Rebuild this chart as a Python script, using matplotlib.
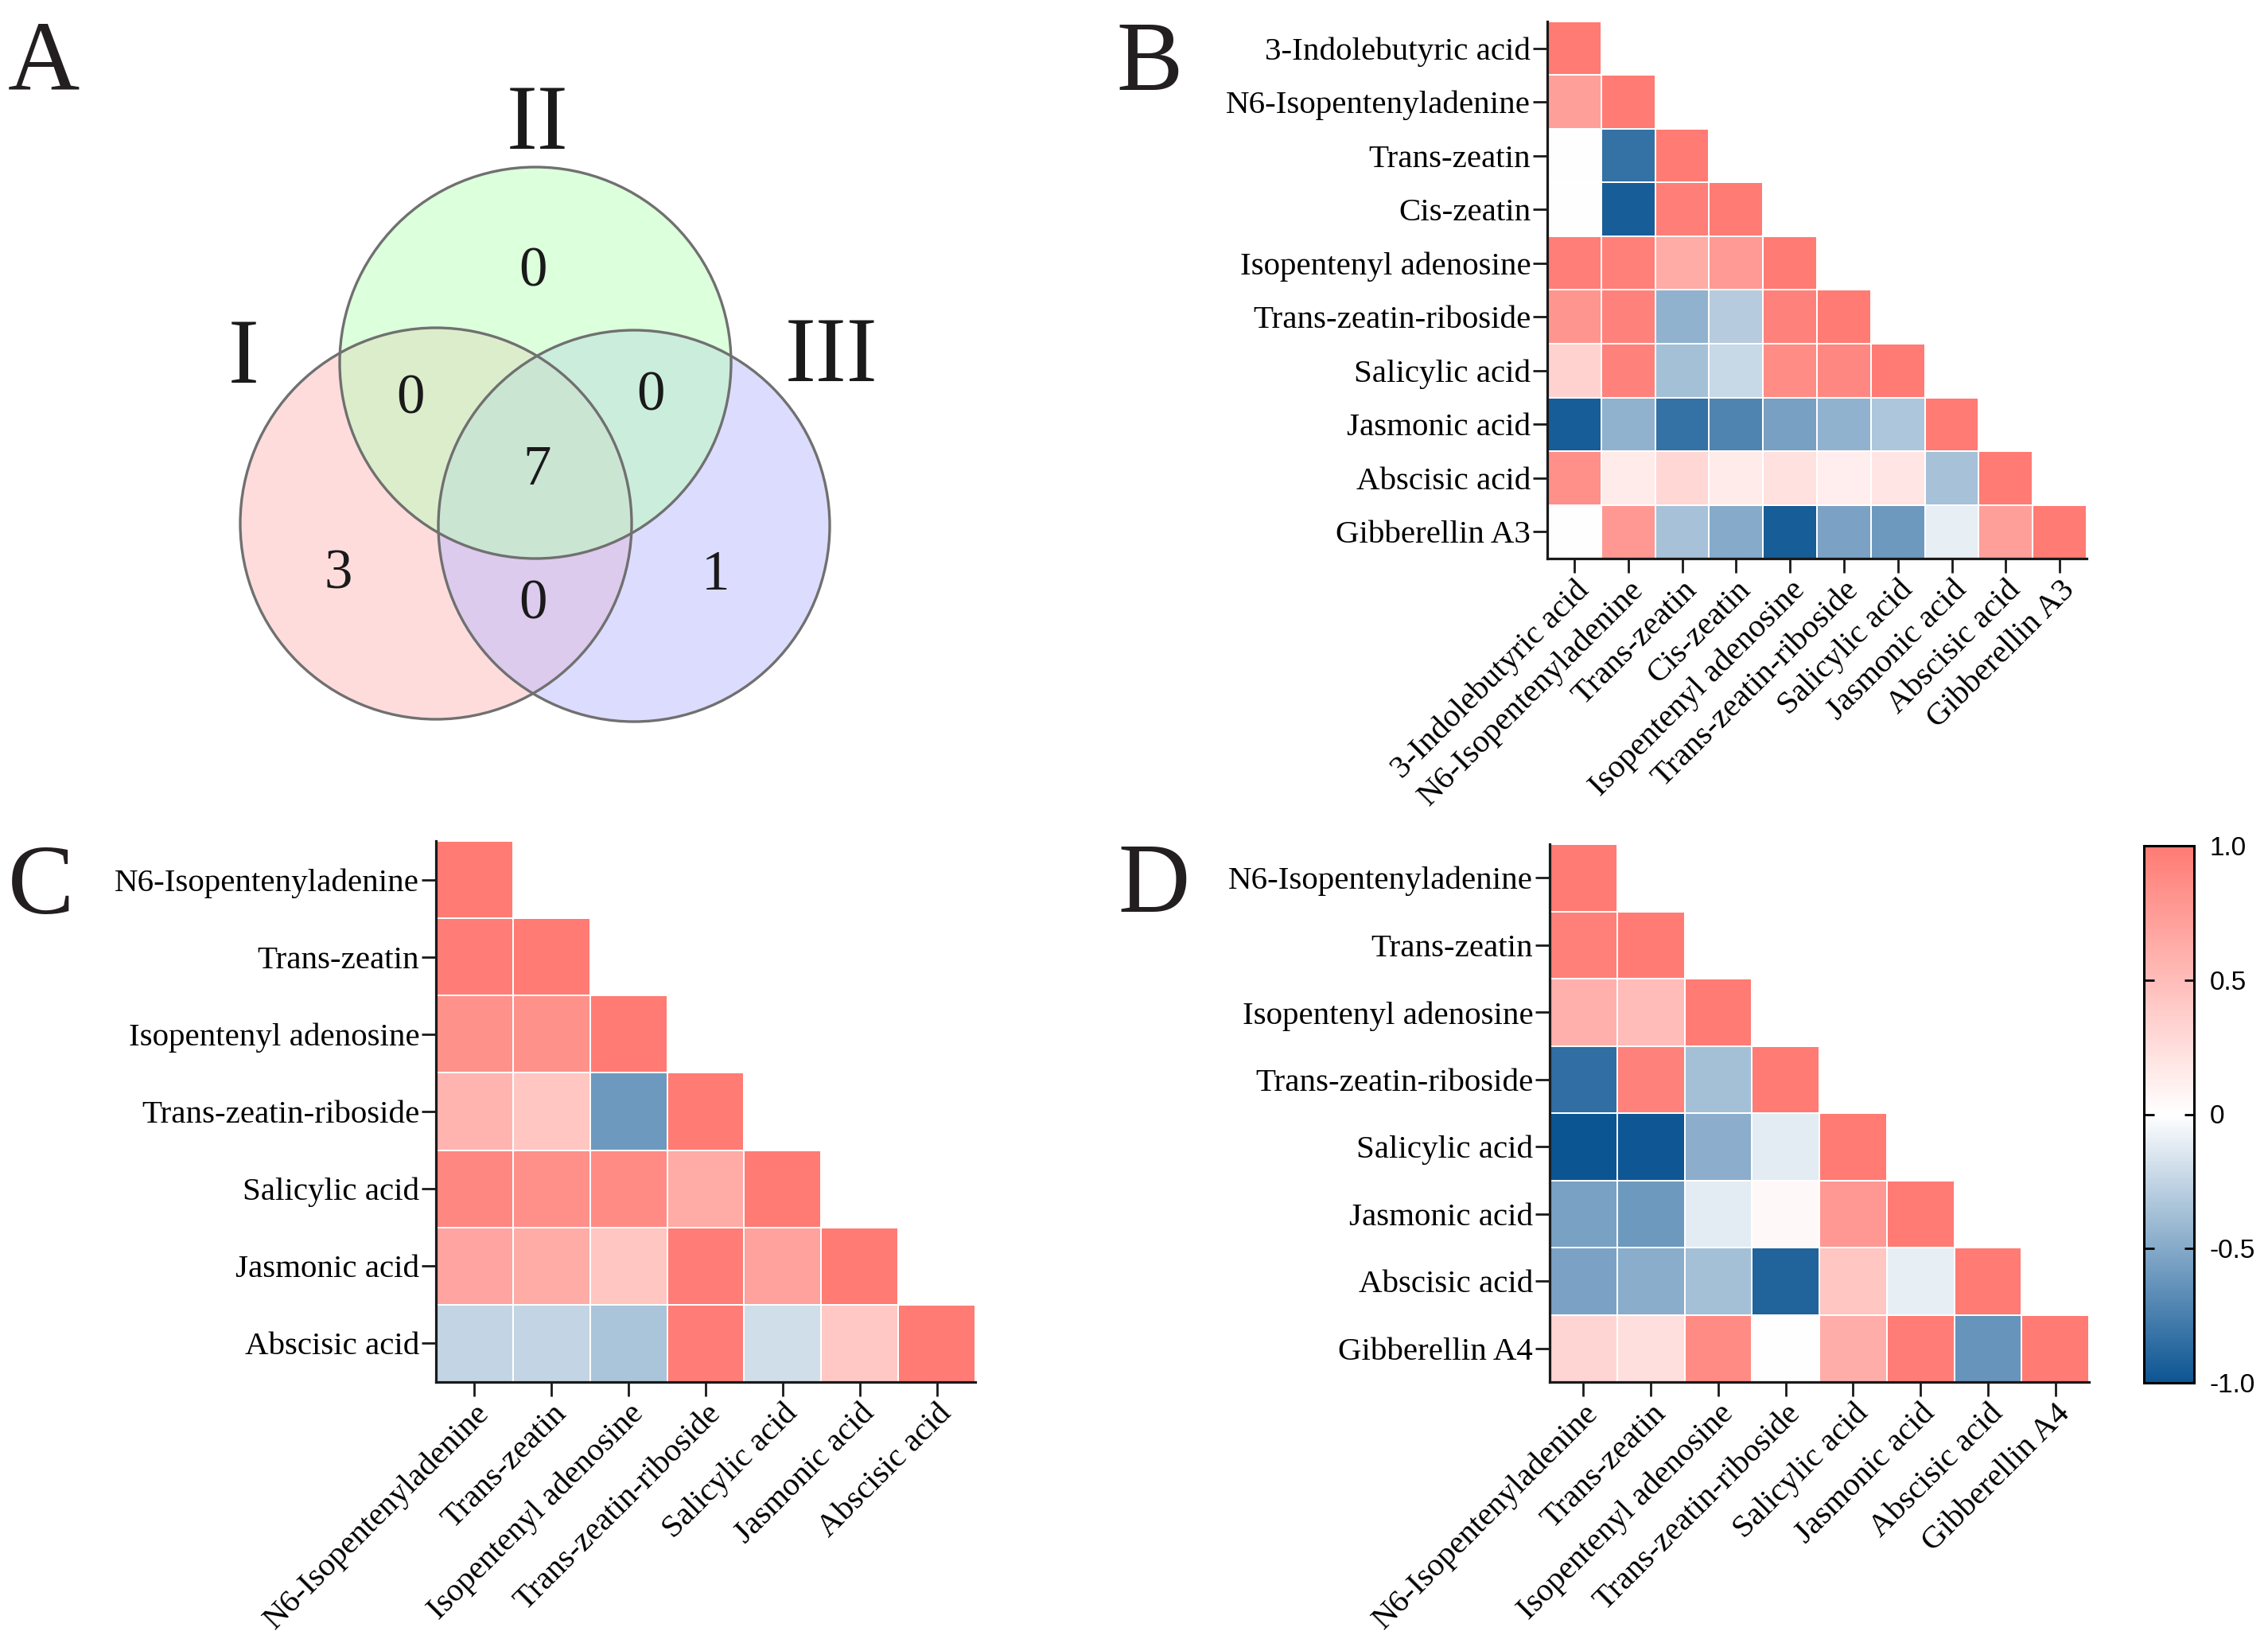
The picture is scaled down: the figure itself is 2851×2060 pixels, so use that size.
import numpy as np
import matplotlib.pyplot as plt
from matplotlib.colors import LinearSegmentedColormap
from matplotlib.patches import Circle

plt.rcParams['font.family'] = ['Liberation Serif', 'DejaVu Serif']

W, H = 2851, 2060

# Venn diagram data
venn_sets = ["I", "II", "III"]
# only I, only II, only III, I&II, II&III, I&III, all three
venn_counts = [3, 0, 1, 0, 0, 0, 7]

# Panel B: correlation (lower triangle)
names_b = ["3-Indolebutyric acid", "N6-Isopentenyladenine", "Trans-zeatin", "Cis-zeatin",
           "Isopentenyl adenosine", "Trans-zeatin-riboside", "Salicylic acid",
           "Jasmonic acid", "Abscisic acid", "Gibberellin A3"]
corr_b = [
    [1.0],
    [0.72, 1.0],
    [0.0, -0.83, 1.0],
    [0.0, -0.95, 0.97, 1.0],
    [0.97, 0.96, 0.64, 0.76, 1.0],
    [0.80, 0.95, -0.45, -0.30, 0.95, 1.0],
    [0.34, 0.95, -0.37, -0.23, 0.87, 0.90, 1.0],
    [-0.95, -0.45, -0.83, -0.72, -0.56, -0.45, -0.33, 1.0],
    [0.85, 0.15, 0.30, 0.15, 0.22, 0.13, 0.20, -0.36, 1.0],
    [0.0, 0.78, -0.36, -0.50, -0.95, -0.54, -0.60, -0.10, 0.72, 1.0],
]

# Panel C
names_c = ["N6-Isopentenyladenine", "Trans-zeatin", "Isopentenyl adenosine",
           "Trans-zeatin-riboside", "Salicylic acid", "Jasmonic acid", "Abscisic acid"]
corr_c = [
    [1.0],
    [0.98, 1.0],
    [0.83, 0.83, 1.0],
    [0.57, 0.43, -0.60, 1.0],
    [0.90, 0.85, 0.88, 0.64, 1.0],
    [0.68, 0.63, 0.43, 0.98, 0.70, 1.0],
    [-0.25, -0.25, -0.35, 0.98, -0.19, 0.42, 1.0],
]

# Panel D
names_d = ["N6-Isopentenyladenine", "Trans-zeatin", "Isopentenyl adenosine",
           "Trans-zeatin-riboside", "Salicylic acid", "Jasmonic acid", "Abscisic acid",
           "Gibberellin A4"]
corr_d = [
    [1.0],
    [0.96, 1.0],
    [0.60, 0.50, 1.0],
    [-0.85, 0.95, -0.37, 1.0],
    [-1.0, -0.99, -0.47, -0.11, 1.0],
    [-0.55, -0.60, -0.11, 0.05, 0.78, 1.0],
    [-0.54, -0.48, -0.37, -0.91, 0.43, -0.10, 1.0],
    [0.32, 0.24, 0.88, 0.0, 0.62, 0.98, -0.63, 1.0],
]

cbar_ticks = [-1.0, -0.5, 0, 0.5, 1.0]
cbar_labels = ["-1.0", "-0.5", "0", "0.5", "1.0"]

cmap = LinearSegmentedColormap.from_list("rb", ["#0c5593", "#ffffff", "#ff7b74"])

fig = plt.figure(figsize=(W / 100, H / 100), dpi=100)


def px_axes(x0, y0, x1, y1):
    # axes from pixel box (top-left origin)
    return fig.add_axes([x0 / W, 1 - y1 / H, (x1 - x0) / W, (y1 - y0) / H])


def heatmap(ax, names, tri):
    n = len(names)
    m = np.full((n, n), np.nan)
    for i, row in enumerate(tri):
        m[i, :len(row)] = row
    mesh = ax.pcolormesh(np.arange(n + 1), np.arange(n + 1), np.ma.masked_invalid(m),
                         cmap=cmap, vmin=-1, vmax=1, edgecolors='white', linewidth=1.4)
    ax.set_xlim(0, n)
    ax.set_ylim(n, 0)
    ax.set_xticks(np.arange(n) + 0.5)
    ax.set_yticks(np.arange(n) + 0.5)
    ax.set_yticklabels(names)
    ax.set_xticklabels(names, rotation=45, ha='right', va='top', rotation_mode='anchor')
    for s in ['top', 'right']:
        ax.spines[s].set_visible(False)
    for s in ['left', 'bottom']:
        ax.spines[s].set_linewidth(2.3)
        ax.spines[s].set_color('#1a1a1a')
    ax.tick_params(length=13, width=2, pad=2, labelsize=29.5, color='#1a1a1a')
    return mesh


# Venn diagram
axv = px_axes(0, 0, W / 2, H / 2)
axv.set_xlim(0, W / 2)
axv.set_ylim(H / 2, 0)
axv.axis('off')

# drawn in order I, III, II so green sits on top
circles = {"I": ((548, 658), '#ffbbbb'),
           "II": ((673, 456), '#bbffbb'),
           "III": ((797, 661), '#bbbbff')}
for key in ["I", "III", "II"]:
    c, col = circles[key]
    axv.add_patch(Circle(c, 246, facecolor=col, alpha=0.5, edgecolor='none'))
for key in ["I", "III", "II"]:
    c, col = circles[key]
    axv.add_patch(Circle(c, 246, facecolor='none', edgecolor='#707070', linewidth=2.4))

set_pos = [(306, 481), (676, 187), (1045, 479)]
for name, (x, y) in zip(venn_sets, set_pos):
    axv.text(x, y, name, fontsize=84, ha='center', va='baseline', color='#1a1a1a')

count_pos = [(425, 739), (670, 360), (900, 741), (516, 519), (818, 515), (670, 777), (675, 609)]
for cnt, (x, y) in zip(venn_counts, count_pos):
    axv.text(x, y, str(cnt), fontsize=51, ha='center', va='baseline', color='#1a1a1a')

# heatmaps
axb = px_axes(1945, 27, 2623, 702)
heatmap(axb, names_b, corr_b)

axc = px_axes(548, 1057, 1226, 1737)
heatmap(axc, names_c, corr_c)

axd = px_axes(1948, 1061, 2626, 1737)
mesh = heatmap(axd, names_d, corr_d)

# colour bar
cax = px_axes(2695, 1063, 2758, 1738)
cb = fig.colorbar(mesh, cax=cax, ticks=cbar_ticks)
cb.ax.set_yticklabels(cbar_labels, family='Liberation Sans')
cb.outline.set_linewidth(2.2)
cax.tick_params(direction='in', left=True, right=True, length=9, width=2,
                labelsize=24, pad=14)

# panel letters
for lab, (x, y) in zip("ABCD", [(10, 113), (1403, 113), (10, 1148), (1405, 1146)]):
    fig.text(x / W, 1 - y / H, lab, fontsize=90, ha='left', va='baseline', color='#231f20')

fig.savefig('out.png', dpi=100)
